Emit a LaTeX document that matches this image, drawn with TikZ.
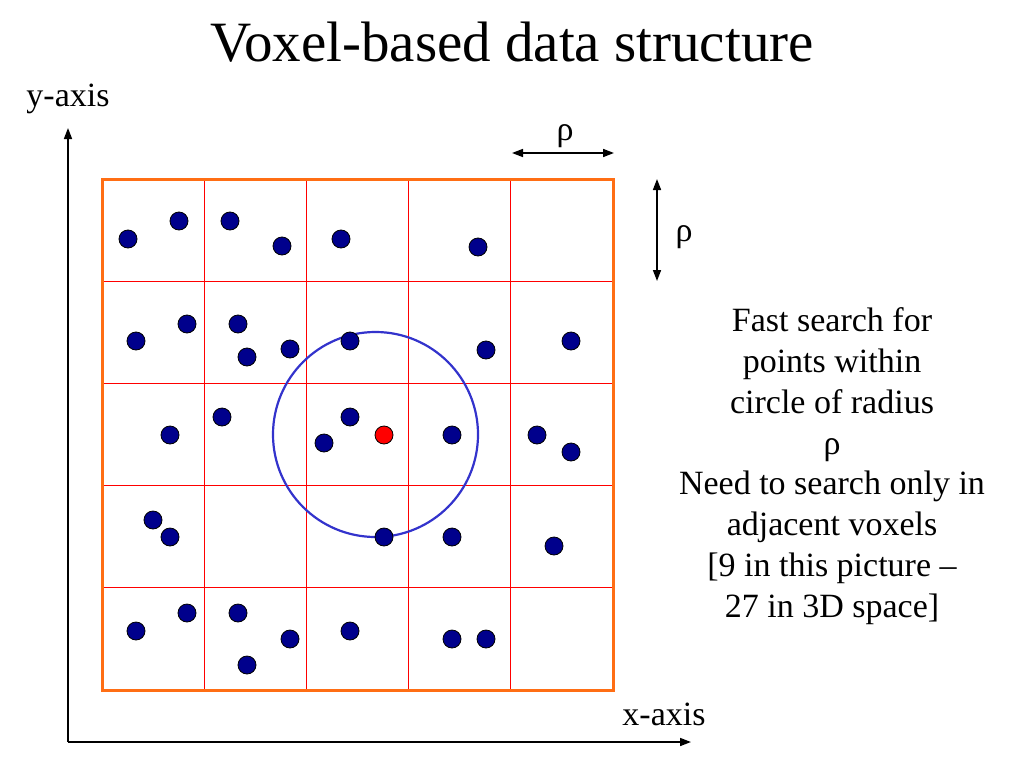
\documentclass[tikz,border=0pt]{standalone}
\usepackage{fontspec}
\setmainfont{Liberation Serif}
\usepackage{xcolor}
\usepackage{tikz}
\usetikzlibrary{arrows.meta, positioning}

\definecolor{navydot}{RGB}{0,0,140}
\definecolor{voxorange}{RGB}{255,110,20}
\definecolor{ringblue}{RGB}{51,51,204}

\begin{document}
\begin{tikzpicture}[x=1pt, y=-1pt,
    datapt/.style={circle, draw=black, line width=0.8pt, fill=navydot, inner sep=0pt, minimum size=18pt},
    querypt/.style={datapt, fill=red},
    voxline/.style={red, line width=1.1pt},
    axis/.style={line width=1.6pt, -{Triangle[length=11pt, width=8pt]}},
    span/.style={line width=1.6pt, {Triangle[length=11pt, width=8pt]}-{Triangle[length=11pt, width=8pt]}},
    lbl/.style={font=\fontsize{34}{40.8}\selectfont, inner sep=0pt}]
    \useasboundingbox (0,0) rectangle (1024,768);

    % title
    \node[font=\fontsize{57}{60}\selectfont, anchor=base] (title) at (512,62) {Voxel-based data structure};

    % axes
    \coordinate (origin) at (68,742);
    \coordinate (ytip) at (68,128);
    \coordinate (xtip) at (691,742);
    \draw[axis] (origin) -- (ytip);
    \draw[axis] (origin) -- (xtip);
    \node[lbl, anchor=base] (ylabel) at (68,106) {y-axis};
    \node[lbl, anchor=base] (xlabel) at (664,725) {x-axis};

    % voxel grid
    \foreach \k in {1,...,4} {
        \draw[voxline] (102+\k*102.2,179) -- (102+\k*102.2,690);
        \draw[voxline] (102,179+\k*102.2) -- (613,179+\k*102.2);
    }
    \node[draw=voxorange, line width=3pt, minimum size=511pt, inner sep=0pt] (grid) at (357.5,434.5) {};

    % search circle
    \node[circle, draw=ringblue, line width=2.2pt, minimum size=205pt, inner sep=0pt] (ring) at (375.5,434.5) {};

    % data points
    \foreach \x/\y [count=\i] in {128/239, 179/221, 230/221, 282/246, 341/239, 478/247,
            136/341, 187/324, 238/324, 247/357, 290/349, 350/341, 486/350, 571/341,
            170/435, 222/417, 350/417, 324/443, 452/435, 537/435, 571/452,
            153/520, 170/537, 384/537, 452/537, 554/546,
            136/631, 187/613, 238/613, 247/665, 290/639, 350/631, 452/639, 486/639}
        \node[datapt] (p\i) at (\x,\y) {};
    \node[querypt] (query) at (384,435) {};

    % voxel size
    \coordinate (hleft) at (512,153);
    \coordinate (hright) at (614,153);
    \draw[span] (hleft) -- (hright);
    \node[lbl, anchor=base] (hrho) at (565,140) {ρ};
    \coordinate (vtop) at (657,179);
    \coordinate (vbot) at (657,281);
    \draw[span] (vtop) -- (vbot);
    \node[lbl, anchor=base] (vrho) at (684,241) {ρ};

    % explanation
    \node[lbl, align=center, anchor=north] (note) at (832,307.5) {Fast search for\\points within\\circle of radius\\ρ\\Need to search only in\\adjacent voxels\\{[9} in this picture –\\27 in 3D space]};
\end{tikzpicture}
\end{document}
